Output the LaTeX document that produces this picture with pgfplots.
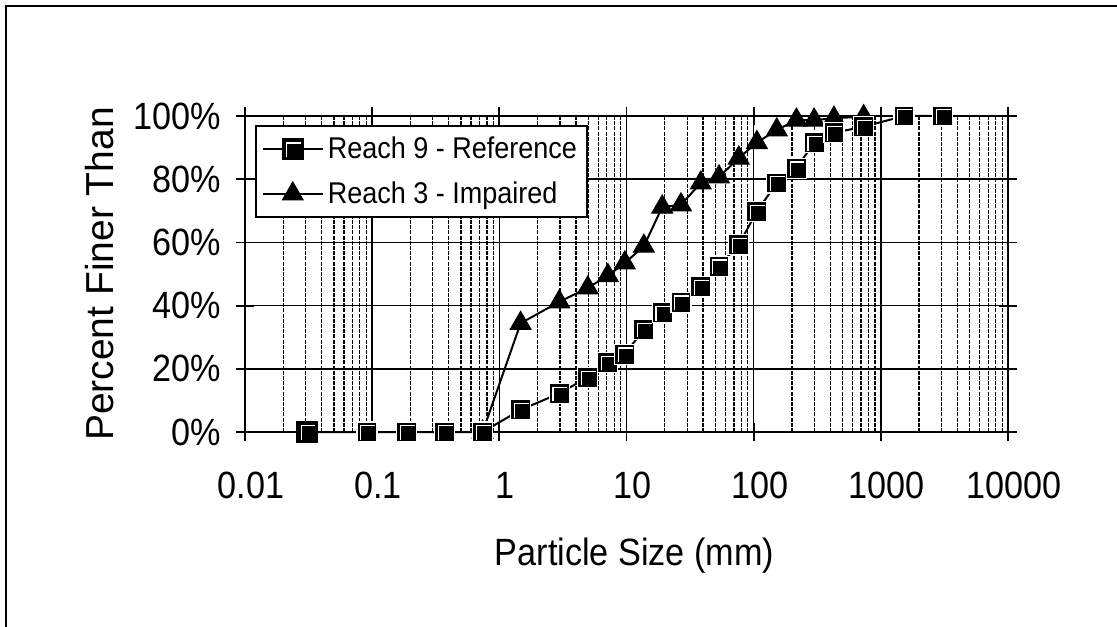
\documentclass[border=0pt]{standalone}
\usepackage{fontspec}
\setmainfont{Liberation Sans}[FakeStretch=0.9]
\usepackage{pgfplots}
\pgfplotsset{compat=1.18}

% Excel-style square marker: black with a white inner edge top-left
\pgfdeclareplotmark{xlsq}{%
  \pgfpathrectangle{\pgfqpoint{-\pgfplotmarksize}{-\pgfplotmarksize}}{\pgfqpoint{2\pgfplotmarksize}{2\pgfplotmarksize}}%
  \pgfusepathqfillstroke
  \pgfsetstrokecolor{white}%
  \pgfsetlinewidth{0.6pt}%
  \pgfpathmoveto{\pgfqpoint{-0.62\pgfplotmarksize}{-0.8\pgfplotmarksize}}%
  \pgfpathlineto{\pgfqpoint{-0.62\pgfplotmarksize}{0.62\pgfplotmarksize}}%
  \pgfpathlineto{\pgfqpoint{0.8\pgfplotmarksize}{0.62\pgfplotmarksize}}%
  \pgfusepathqstroke
}

\begin{document}
\begin{tikzpicture}
\useasboundingbox (-122.5pt,-97pt) rectangle (436pt,216pt);
\draw[line width=1pt] (-119.5pt,-110pt) -- (-119.5pt,213pt) -- (450pt,213pt);
\begin{semilogxaxis}[
  scale only axis, width=381.5pt, height=158pt,
  at={(0,0)}, anchor=south west,
  xmin=0.01, xmax=10000, ymin=0, ymax=100,
  clip=false,
  xtick={0.01,0.1,1,10,100,1000,10000},
  xticklabels={0.01,0.1,1,10,100,1000,10000},
  minor xtick={0.02,0.03,0.04,0.05,0.06,0.07,0.08,0.09,
               0.2,0.3,0.4,0.5,0.6,0.7,0.8,0.9,
               2,3,4,5,6,7,8,9,
               20,30,40,50,60,70,80,90,
               200,300,400,500,600,700,800,900,
               2000,3000,4000,5000,6000,7000,8000,9000},
  ytick={0,20,40,60,80,100},
  yticklabels={0\%,20\%,40\%,60\%,80\%,100\%},
  xmajorgrids, xminorgrids, ymajorgrids,
  major grid style={black, line width=0.7pt},
  minor grid style={black, line width=0.65pt, dash pattern=on 2pt off 0.6pt},
  axis line style={line width=1pt},
  tick align=center, major tick length=9pt, minor tick length=0pt,
  tick style={black, line width=0.9pt},
  ticklabel style={font=\fontsize{19}{22}\selectfont},
  xticklabel style={yshift=-12pt, xshift=3pt},
  yticklabel style={xshift=-4pt},
  xlabel={Particle Size (mm)},
  ylabel={Percent Finer Than},
  xlabel style={font=\fontsize{19}{22}\selectfont, at={(axis description cs:0.5,0)}, anchor=center, yshift=-62pt, xshift=4pt},
  ylabel style={font=\fontsize{19.5}{22}\selectfont\addfontfeature{FakeStretch=1.0}, at={(axis description cs:-0.19,0.5)}, anchor=center},
  reverse legend,
  legend cell align=left,
  legend style={at={(axis description cs:0,1)}, anchor=north west,
    xshift=5pt, yshift=-4.5pt, draw=black, line width=0.8pt,
    font=\fontsize{15}{18}\selectfont, inner xsep=3pt, inner ysep=3.5pt,
    row sep=6pt},
  legend image code/.code={%
    \draw[mark repeat=2,mark phase=2] plot coordinates {(0pt,0pt)(15pt,0pt)(30pt,0pt)};},
]
\addplot[black, line width=1pt, mark=triangle*, mark size=6pt,
  mark options={fill=black, line width=0.5pt}] coordinates {
  (0.739,0)(1.47,34.4)(2.96,41.2)(4.96,45.6)(7.14,49.5)(9.7,53.5)
  (13.7,58.8)(19.1,71.2)(26.8,71.9)(38.4,78.8)(53.4,80.7)(76.4,86.7)
  (106,91.6)(152,95.6)(217,98.7)(299,98.7)(428,99.3)(733,99.8)};
\addlegendentry{Reach 3 - Impaired}
\addplot[black, line width=1pt, mark=xlsq, mark size=5pt] coordinates {
  (0.031,0)(0.091,0)(0.187,0)(0.372,0)(0.739,0)(1.47,7.0)(2.96,12.2)
  (4.96,17.3)(7.14,22.0)(9.7,24.6)(13.7,32.5)(19.1,37.8)(26.8,41.1)
  (38.4,46.0)(53.4,52.5)(76.4,59.3)(106,69.8)(152,78.8)(217,83.5)
  (299,91.6)(428,94.7)(733,96.6)(1519,100)(3060,100)};
\addlegendentry{Reach 9 - Reference}
\end{semilogxaxis}
\end{tikzpicture}
\end{document}
